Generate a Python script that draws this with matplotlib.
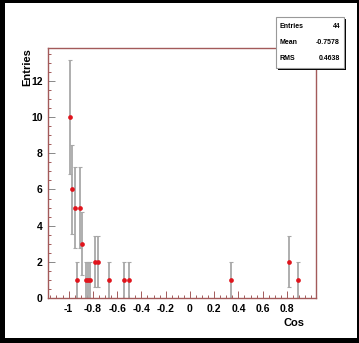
import numpy as np
import matplotlib
matplotlib.use("Agg")
import matplotlib.pyplot as plt
from matplotlib.patches import Rectangle
from matplotlib.ticker import MultipleLocator

# histogram bins that have entries
cos_vals = [-0.99, -0.97, -0.95, -0.93, -0.91, -0.89, -0.86, -0.84, -0.82,
            -0.78, -0.76, -0.67, -0.54, -0.50, 0.34, 0.82, 0.89]
counts = [10, 6, 5, 1, 5, 3, 1, 1, 1, 2, 2, 1, 1, 1, 1, 2, 1]
x_ticks = [-1, -0.8, -0.6, -0.4, -0.2, 0, 0.2, 0.4, 0.6, 0.8]
x_labels = ["-1", "-0.8", "-0.6", "-0.4", "-0.2", "0", "0.2", "0.4", "0.6", "0.8"]
stat_names = ["Entries", "Mean", "RMS"]
stat_values = ["44", "-0.7578", "0.4638"]

plt.rcParams["font.family"] = ["Liberation Sans", "DejaVu Sans"]
frame_col = "#a35a5a"

fig = plt.figure(figsize=(3.59, 3.43), dpi=100)
W, H = 359, 343

# black frame round the canvas
for (x0, y0, w, h) in [(0, 0, 5, H), (0, H - 3, W, 3), (0, 0, W, 5), (W - 2, 0, 2, H)]:
    fig.patches.append(Rectangle((x0 / W, y0 / H), w / W, h / H, lw=0,
                                 transform=fig.transFigure, color="black", zorder=5))

ax = fig.add_axes([48 / W, 1 - 298 / H, (316 - 48) / W, (298 - 48) / H])

y = np.array(counts, dtype=float)
err = np.sqrt(y)
ax.errorbar(cos_vals, y, yerr=err, fmt="none", ecolor="#a8a8a8",
            elinewidth=1.3, capsize=1.5, capthick=0.8, zorder=2)
ax.plot(cos_vals, y, "o", color="#e0141c", ms=3.4, mec="none", zorder=3)

ax.set_xlim(-1.17, 1.04)
ax.set_ylim(0, 13.82)
ax.set_xticks(x_ticks)
ax.set_xticklabels(x_labels)
ax.set_yticks([0, 2, 4, 6, 8, 10, 12])
ax.xaxis.set_minor_locator(MultipleLocator(0.05))
ax.yaxis.set_minor_locator(MultipleLocator(0.5))

for s in ax.spines.values():
    s.set_color(frame_col)
    s.set_linewidth(1.0)
ax.tick_params(which="both", direction="in", color=frame_col, width=0.7,
               labelsize=7.5, pad=4)
ax.tick_params(which="major", length=5)
ax.tick_params(which="minor", length=2.5)
ax.tick_params(axis="y", color="#888888")
for lab in ax.get_xticklabels() + ax.get_yticklabels():
    lab.set_fontweight("bold")

fig.text(305 / W, 1 - 323 / H, "Cos", ha="right", va="center",
         fontsize=8, fontweight="bold")
fig.text(27 / W, 1 - 48 / H, "Entries", ha="center", va="top",
         rotation=90, fontsize=8, fontweight="bold")

# statistics box with drop shadow
bx0, by0, bx1, by1 = 276, 17, 344, 68
fig.patches.append(Rectangle(((bx0 + 2) / W, 1 - (by1 + 2) / H), (bx1 - bx0) / W,
                             (by1 - by0) / H, transform=fig.transFigure,
                             color="black", lw=0, zorder=6))
fig.patches.append(Rectangle((bx0 / W, 1 - by1 / H), (bx1 - bx0) / W,
                             (by1 - by0) / H, transform=fig.transFigure,
                             facecolor="white", edgecolor="#999999", lw=0.8,
                             zorder=7))
for i, (n, v) in enumerate(zip(stat_names, stat_values)):
    yy = 1 - (26 + i * 16.5) / H
    fig.text(280 / W, yy, n, ha="left", va="center", fontsize=5,
             fontweight="bold", zorder=8)
    fig.text(340 / W, yy, v, ha="right", va="center", fontsize=5,
             fontweight="bold", zorder=8)

fig.savefig("out.png", dpi=100)
